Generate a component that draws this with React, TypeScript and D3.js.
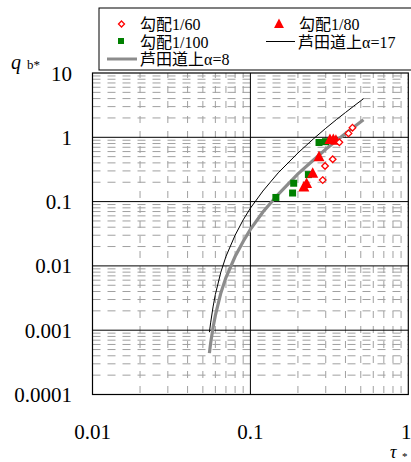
import React from "react";
import * as d3 from "d3";

// ---- data ----
const xTickLabels = ["0.01", "0.1", "1"];
const xTickValues = [0.01, 0.1, 1];
const yTickLabels = ["0.0001", "0.001", "0.01", "0.1", "1", "10"];
const yTickValues = [0.0001, 0.001, 0.01, 0.1, 1, 10];

// 勾配1/60 (open diamonds)
const tau60 = [0.287, 0.297, 0.332, 0.366, 0.418, 0.443];
const qb60 = [0.216, 0.358, 0.456, 0.836, 1.15, 1.41];
// 勾配1/80 (filled triangles)
const tau80 = [0.218, 0.227, 0.248, 0.272, 0.319, 0.335, 0.348];
const qb80 = [0.169, 0.191, 0.275, 0.498, 0.924, 0.924, 0.898];
// 勾配1/100 (filled squares)
const tau100 = [0.145, 0.185, 0.188, 0.233, 0.272, 0.299];
const qb100 = [0.116, 0.136, 0.193, 0.263, 0.83, 0.855];

// 芦田道上 curves
const tauCurve = [0.055, 0.056, 0.058, 0.06, 0.065, 0.07, 0.08, 0.09, 0.1, 0.12, 0.15, 0.2, 0.25, 0.3, 0.35, 0.4, 0.45, 0.52];
const ashida17 = [0.00093, 0.0013, 0.0023, 0.0036, 0.008, 0.014, 0.03, 0.052, 0.079, 0.146, 0.28, 0.57, 0.94, 1.38, 1.88, 2.43, 3.04, 3.98];
const ashida8 = [0.00044, 0.00063, 0.0011, 0.0017, 0.0038, 0.0066, 0.014, 0.024, 0.037, 0.069, 0.13, 0.27, 0.44, 0.65, 0.88, 1.15, 1.43, 1.87];

const SERIF = "'Liberation Serif', 'Times New Roman', 'Noto Sans CJK JP', serif";

export default function App() {
  const W = 411, H = 462;
  const L = 92.5, R = 408.3, T = 73, B = 394.5;
  const x = d3.scaleLog().domain([0.01, 1]).range([L, R]);
  const y = d3.scaleLog().domain([1e-4, 10]).range([B, T]);

  const minorX: number[] = [];
  [0.01, 0.1].forEach((d) => { for (let k = 2; k <= 9; k++) minorX.push(d * k); });
  const minorY: number[] = [];
  [0.0001, 0.001, 0.01, 0.1, 1].forEach((d) => { for (let k = 2; k <= 9; k++) minorY.push(d * k); });

  const line = d3.line<[number, number]>().x((d) => x(d[0])).y((d) => y(d[1]));
  const c17 = line(tauCurve.map((t, i) => [t, ashida17[i]] as [number, number])) || "";
  const c8 = line(tauCurve.map((t, i) => [t, ashida8[i]] as [number, number])) || "";

  const diamond = (cx: number, cy: number, r: number) =>
    `M${cx},${cy - r}L${cx + r},${cy}L${cx},${cy + r}L${cx - r},${cy}Z`;
  const tri = (cx: number, cy: number, s: number) =>
    `M${cx},${cy - s * 0.6}L${cx + s * 0.55},${cy + s * 0.45}L${cx - s * 0.55},${cy + s * 0.45}Z`;

  return (
    <svg width={W} height={H} style={{ position: "absolute", left: 0, top: 0, background: "#fff" }}>
      <rect x={0} y={0} width={W} height={H} fill="#fff" />
      {/* minor grid */}
      <g stroke="#a0a0a0" strokeWidth={1}>
        {minorY.map((v, i) => (
          <line key={"hy" + i} x1={L} x2={R} y1={y(v)} y2={y(v)} strokeDasharray="8,7" />
        ))}
        {minorX.map((v, i) => (
          <line key={"vx" + i} x1={x(v)} x2={x(v)} y1={T} y2={B} strokeDasharray="7,8" strokeDashoffset={2} />
        ))}
      </g>
      {/* major grid */}
      <g stroke="#000" strokeWidth={1}>
        {yTickValues.slice(1, -1).map((v, i) => (
          <line key={"my" + i} x1={L} x2={R} y1={y(v)} y2={y(v)} />
        ))}
        <line x1={x(0.1)} x2={x(0.1)} y1={T} y2={B} />
      </g>
      <rect x={L} y={T} width={R - L} height={B - T} fill="none" stroke="#000" strokeWidth={1.2} />

      {/* curves */}
      <path d={c8} fill="none" stroke="#8c8c8c" strokeWidth={3.2} />
      <path d={c17} fill="none" stroke="#000" strokeWidth={1} />

      {/* points */}
      {tau100.map((t, i) => (
        <rect key={"s" + i} x={x(t) - 3.5} y={y(qb100[i]) - 3.5} width={7} height={7} fill="#008000" />
      ))}
      {tau80.map((t, i) => (
        <path key={"t" + i} d={tri(x(t), y(qb80[i]), 10)} fill="#ff0000" />
      ))}
      {tau60.map((t, i) => (
        <path key={"d" + i} d={diamond(x(t), y(qb60[i]), 3.3)} fill="#fff" stroke="#ff0000" strokeWidth={1.3} />
      ))}

      {/* y tick labels */}
      <g fontFamily={SERIF} fontSize={21} fill="#000">
        {yTickValues.map((v, i) => (
          <text key={"yl" + i} x={72} y={y(v) + 7.5} textAnchor="end">{yTickLabels[i]}</text>
        ))}
        {xTickValues.map((v, i) => (
          <text key={"xl" + i} x={x(v) - (i === 2 ? 2 : 0)} y={439} textAnchor="middle">{xTickLabels[i]}</text>
        ))}
      </g>
      {/* axis titles */}
      <text x={11} y={69} fontFamily={SERIF} fontSize={20} fontStyle="italic">q</text>
      <text x={27} y={69} fontFamily={SERIF} fontSize={13}>b*</text>
      <text x={390} y={458} fontFamily={SERIF} fontSize={18} fontStyle="italic">τ</text>
      <text x={402} y={460} fontFamily={SERIF} fontSize={11}>*</text>

      {/* legend */}
      <rect x={99} y={8} width={320} height={62} fill="#fff" stroke="#000" strokeWidth={1} />
      <g fontFamily={SERIF} fontSize={16} fill="#000">
        <path d={diamond(121.5, 24, 3)} fill="#fff" stroke="#ff0000" strokeWidth={1.3} />
        <text x={140} y={30}>勾配1/60</text>
        <path d={tri(279, 24, 9)} fill="#ff0000" />
        <text x={299} y={30}>勾配1/80</text>
        <rect x={118} y={38} width={6} height={6} fill="#008000" />
        <text x={140} y={47.5}>勾配1/100</text>
        <line x1={266} x2={295} y1={41.5} y2={41.5} stroke="#000" strokeWidth={1} />
        <text x={298} y={47.5}>芦田道上α=17</text>
        <line x1={107} x2={137} y1={59} y2={59} stroke="#8c8c8c" strokeWidth={3} />
        <text x={140} y={65}>芦田道上α=8</text>
      </g>
    </svg>
  );
}
